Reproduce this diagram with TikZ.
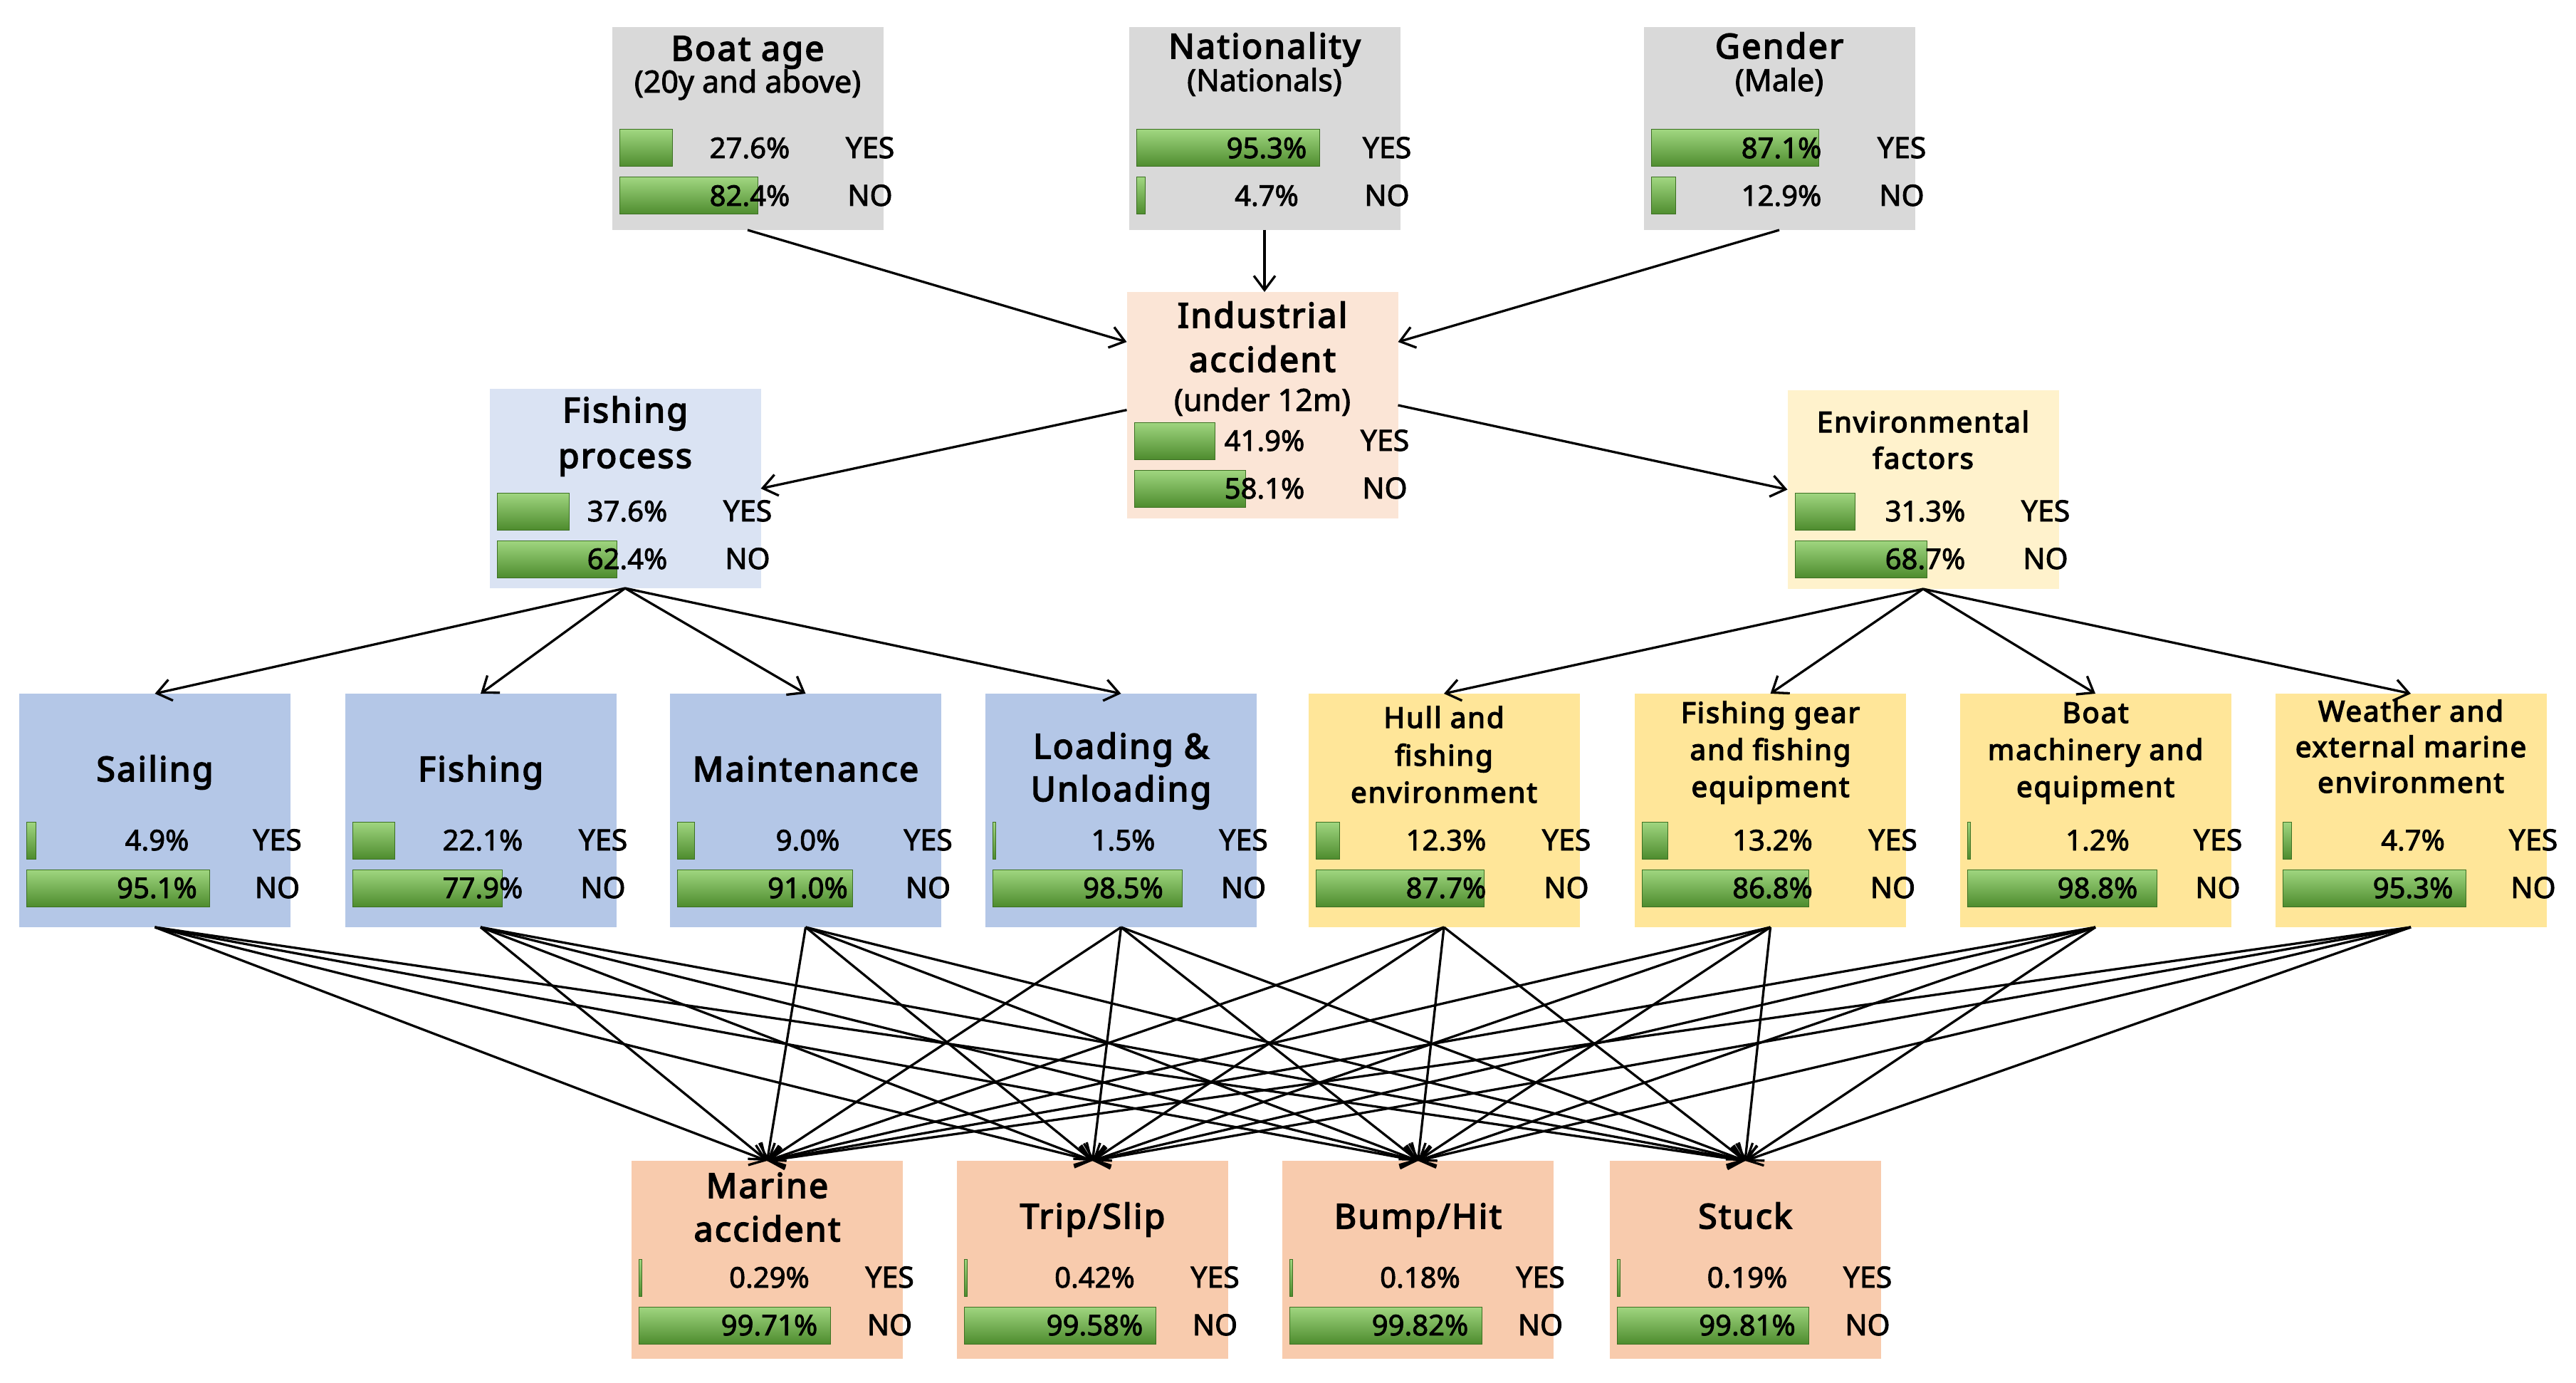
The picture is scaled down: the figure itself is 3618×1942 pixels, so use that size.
\documentclass[tikz,border=0pt]{standalone}
\usepackage{fontspec}
\setmainfont{Noto Sans}
\newfontfamily\fT{Noto Sans}[FakeBold=3.6,LetterSpace=5]
\newfontfamily\fM{Noto Sans}[FakeBold=2.2]
\usetikzlibrary{arrows.meta,calc}
\definecolor{cGray}{HTML}{D9D9D9}
\definecolor{cInd}{HTML}{FBE5D6}
\definecolor{cFP}{HTML}{DAE3F3}
\definecolor{cEnv}{HTML}{FFF2CC}
\definecolor{cBlue}{HTML}{B4C7E7}
\definecolor{cYel}{HTML}{FFE699}
\definecolor{cBot}{HTML}{F8CBAD}
\definecolor{barTop}{RGB}{160,214,128}
\definecolor{barBot}{RGB}{78,140,46}
\definecolor{barEdge}{RGB}{60,112,34}
\tikzset{
  box/.style={rectangle,draw=none,minimum width=381pt,inner sep=0pt,outer sep=0pt,anchor=north},
  ttl/.style={font=\fontsize{48}{58}\fT,anchor=base,inner sep=0pt},
  ttlsm/.style={font=\fontsize{40}{50}\fT,anchor=base,inner sep=0pt},
  sub/.style={font=\fontsize{43}{50}\fM,anchor=base,inner sep=0pt},
  pct/.style={font=\fontsize{40}{46}\fM,anchor=base,inner sep=0pt},
  lab/.style={font=\fontsize{41}{46}\fM,anchor=base,inner sep=0pt},
  bar/.style={top color=barTop,bottom color=barBot,draw=barEdge,line width=1pt},
  arr/.style={-{Straight Barb[length=20pt,width=30pt]},line width=3.3pt,black},
}
\newcommand{\mkbox}[5]{\node[box,fill=#5,minimum height=#4pt] (#1) at (#2,#3) {};}
\newcommand{\stats}[7]{%
  \pgfmathsetmacro\sxl{#2-180}%
  \pgfmathsetmacro\sxr{#2+172}%
  \pgfmathsetmacro\syb{#3+67}%
  \pgfmathsetmacro\syl{max(#5*2.7,4)}%
  \pgfmathsetmacro\snl{max(#7*2.7,4)}%
  \shade[bar] (\sxl,#3) rectangle ++(\syl,52);
  \shade[bar] (\sxl,\syb) rectangle ++(\snl,52);
  \node[pct] (#1-yp) at (#2+3,#3+40) {#4\%};
  \node[pct] (#1-np) at (#2+3,\syb+40) {#6\%};
  \node[lab] (#1-yl) at (\sxr,#3+40) {YES};
  \node[lab] (#1-nl) at (\sxr,\syb+40) {NO};
}
\begin{document}
\begin{tikzpicture}[x=1pt,y=-1pt]
\useasboundingbox (0,0) rectangle (3618,1942);
\fill[white] (0,0) rectangle (3618,1942);
% boxes
\mkbox{boat}{1050}{38}{285}{cGray}
\mkbox{nat}{1776}{38}{285}{cGray}
\mkbox{gen}{2499}{38}{285}{cGray}
\mkbox{ind}{1773}{410}{318}{cInd}
\mkbox{fp}{878}{546}{280}{cFP}
\mkbox{env}{2701}{548}{279}{cEnv}
\mkbox{sail}{217.5}{974}{328}{cBlue}
\mkbox{fish}{675}{974}{328}{cBlue}
\mkbox{maint}{1131.5}{974}{328}{cBlue}
\mkbox{load}{1574.5}{974}{328}{cBlue}
\mkbox{hull}{2028}{974}{328}{cYel}
\mkbox{gear}{2486.5}{974}{328}{cYel}
\mkbox{mach}{2943}{974}{328}{cYel}
\mkbox{weat}{3386}{974}{328}{cYel}
\mkbox{mar}{1077.5}{1630}{278}{cBot}
\mkbox{trip}{1534.5}{1630}{278}{cBot}
\mkbox{bump}{1991.5}{1630}{278}{cBot}
\mkbox{stuck}{2451}{1630}{278}{cBot}
% titles
\node[ttl] (boat-t1) at (1050,85) {Boat age};
\node[sub] (boat-t2) at (1050,130) {(20y and above)};
\node[ttl] (nat-t1) at (1776,82) {Nationality};
\node[sub] (nat-t2) at (1776,128) {(Nationals)};
\node[ttl] (gen-t1) at (2499,82) {Gender};
\node[sub] (gen-t2) at (2499,128) {(Male)};
\node[ttl] (ind-t1) at (1773,460) {Industrial};
\node[ttl] (ind-t2) at (1773,522) {accident};
\node[sub] (ind-t3) at (1773,577) {(under 12m)};
\node[ttl] (fp-t1) at (878,593) {Fishing};
\node[ttl] (fp-t2) at (878,657) {process};
\node[ttlsm] (env-t1) at (2701,607) {Environmental};
\node[ttlsm] (env-t2) at (2701,658) {factors};
\node[ttl] (sail-t1) at (217.5,1097) {Sailing};
\node[ttl] (fish-t1) at (675,1097) {Fishing};
\node[ttl] (maint-t1) at (1131.5,1097) {Maintenance};
\node[ttl] (load-t1) at (1574.5,1065) {Loading \&};
\node[ttl] (load-t2) at (1574.5,1125) {Unloading};
\node[ttlsm] (hull-t1) at (2028,1022) {Hull and};
\node[ttlsm] (hull-t2) at (2028,1075) {fishing};
\node[ttlsm] (hull-t3) at (2028,1127) {environment};
\node[ttlsm] (gear-t1) at (2486.5,1015) {Fishing gear};
\node[ttlsm] (gear-t2) at (2486.5,1067) {and fishing};
\node[ttlsm] (gear-t3) at (2486.5,1119) {equipment};
\node[ttlsm] (mach-t1) at (2943,1015) {Boat};
\node[ttlsm] (mach-t2) at (2943,1067) {machinery and};
\node[ttlsm] (mach-t3) at (2943,1119) {equipment};
\node[ttlsm] (weat-t1) at (3386,1013) {Weather and};
\node[ttlsm] (weat-t2) at (3386,1063) {external marine};
\node[ttlsm] (weat-t3) at (3386,1113) {environment};
\node[ttl] (mar-t1) at (1077.5,1682) {Marine};
\node[ttl] (mar-t2) at (1077.5,1743) {accident};
\node[ttl] (trip-t1) at (1534.5,1725) {Trip/Slip};
\node[ttl] (bump-t1) at (1991.5,1725) {Bump/Hit};
\node[ttl] (stuck-t1) at (2451,1725) {Stuck};
% stats
\stats{boat}{1050}{182}{27.6}{27.6}{82.4}{72.2}
\stats{nat}{1776}{182}{95.3}{95.3}{4.7}{4.7}
\stats{gen}{2499}{182}{87.1}{87.1}{12.9}{12.9}
\stats{ind}{1773}{593}{41.9}{41.9}{58.1}{58.1}
\stats{fp}{878}{692}{37.6}{37.6}{62.4}{62.4}
\stats{env}{2701}{692}{31.3}{31.3}{68.7}{68.7}
\stats{sail}{217.5}{1154}{4.9}{4.9}{95.1}{95.1}
\stats{fish}{675}{1154}{22.1}{22.1}{77.9}{77.9}
\stats{maint}{1131.5}{1154}{9.0}{9.0}{91.0}{91.0}
\stats{load}{1574.5}{1154}{1.5}{1.5}{98.5}{98.5}
\stats{hull}{2028}{1154}{12.3}{12.3}{87.7}{87.7}
\stats{gear}{2486.5}{1154}{13.2}{13.2}{86.8}{86.8}
\stats{mach}{2943}{1154}{1.2}{1.2}{98.8}{98.8}
\stats{weat}{3386}{1154}{4.7}{4.7}{95.3}{95.3}
\stats{mar}{1077.5}{1768}{0.29}{0.29}{99.71}{99.71}
\stats{trip}{1534.5}{1768}{0.42}{0.42}{99.58}{99.58}
\stats{bump}{1991.5}{1768}{0.18}{0.18}{99.82}{99.82}
\stats{stuck}{2451}{1768}{0.19}{0.19}{99.81}{99.81}
% arrows: top row to industrial accident
\draw[arr] (boat.south) -- (ind.155);
\draw[arr] (nat.south) -- (nat.south |- ind.north);
\draw[arr] (gen.south) -- (ind.25.8);
\draw[arr] (ind.182) -- (fp.east);
\draw[arr] (ind.east) -- (env.west);
% fishing process / environmental factors to middle row
\foreach \m in {sail,fish,maint,load} \draw[arr] (fp.south) -- (\m.north);
\foreach \m in {hull,gear,mach,weat} \draw[arr] (env.south) -- (\m.north);
% middle row to bottom row
\foreach \m in {sail,fish,maint,load,hull,gear,mach,weat}
  \foreach \b in {mar,trip,bump,stuck}
    \draw[arr] (\m.south) -- (\b.north);
\end{tikzpicture}
\end{document}
